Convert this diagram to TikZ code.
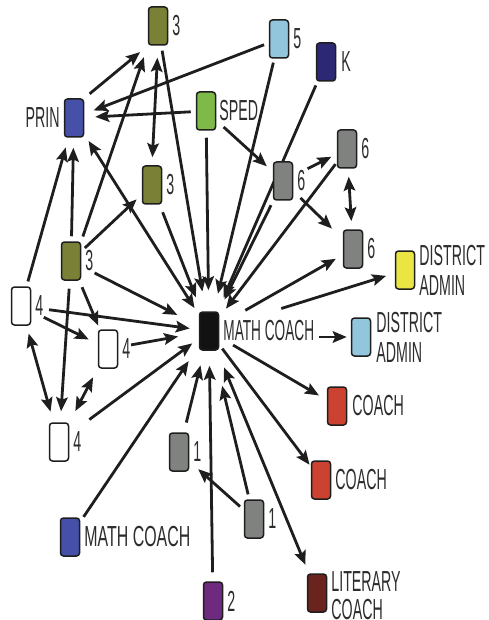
\documentclass[tikz,border=0pt]{standalone}
\usepackage{fontspec}
\usepackage{graphicx}
\setmainfont{Liberation Sans}[FakeStretch=0.49]
\usetikzlibrary{arrows.meta,backgrounds}
\definecolor{olv}{RGB}{122,129,54}
\definecolor{pblue}{RGB}{70,80,168}
\definecolor{sgreen}{RGB}{125,186,72}
\definecolor{lblue}{RGB}{146,198,221}
\definecolor{navy}{RGB}{45,40,116}
\definecolor{gry}{RGB}{128,130,128}
\definecolor{blk}{RGB}{18,18,18}
\definecolor{yel}{RGB}{234,229,67}
\definecolor{redc}{RGB}{204,66,48}
\definecolor{dred}{RGB}{107,35,30}
\definecolor{purp}{RGB}{110,42,126}
\definecolor{ink}{RGB}{30,30,30}
\definecolor{txt}{RGB}{45,45,45}
\begin{document}
\begin{tikzpicture}[x=1pt,y=-1pt,
  box/.style={draw=ink, rounded corners=3pt, minimum width=19pt, minimum height=38pt, inner sep=0pt, line width=1.5pt},
  lbl/.style={inner sep=0pt, text=txt, font=\fontsize{29}{30}\selectfont, align=left},
  conn/.style={line width=2.8pt, draw=ink, -{Stealth[length=14pt,width=11.5pt,inset=2.5pt]}, shorten <=5pt, shorten >=9pt},
  bconn/.style={conn, {Stealth[length=14pt,width=11.5pt,inset=2.5pt]}-{Stealth[length=14pt,width=11.5pt,inset=2.5pt]}}
]
\useasboundingbox (0,0) rectangle (488,620);
% nodes
\node[box, fill=olv] (g3a) at (158,26) {};
\node[box, fill=lblue] (b5) at (279,39) {};
\node[box, fill=navy] (k) at (326,62) {};
\node[box, fill=pblue] (prin) at (74,118) {};
\node[box, fill=sgreen] (sped) at (206,111) {};
\node[box, fill=olv] (g3b) at (152,185) {};
\node[box, fill=gry] (s6a) at (283,181) {};
\node[box, fill=gry] (s6b) at (347,149) {};
\node[box, fill=gry] (s6c) at (353,249) {};
\node[box, fill=yel] (da1) at (405,270) {};
\node[box, fill=blk] (mc) at (209,331) {};
\node[box, fill=lblue] (da2) at (361,337) {};
\node[box, fill=redc] (c1) at (337,406) {};
\node[box, fill=redc] (c2) at (321,480) {};
\node[box, fill=dred] (lit) at (317,593) {};
\node[box, fill=gry] (g1b) at (254,519) {};
\node[box, fill=gry] (g1a) at (179,452) {};
\node[box, fill=purp] (p2) at (213,601) {};
\node[box, fill=pblue] (bmc) at (70,537) {};
\node[box, fill=white] (w4c) at (59,442) {};
\node[box, fill=white] (w4a) at (21,306) {};
\node[box, fill=white] (w4b) at (108,349) {};
\node[box, fill=olv] (g3c) at (71,261) {};
% labels
\node[lbl, anchor=west] (lg3a) at ([xshift=4pt]g3a.east) {3};
\node[lbl, anchor=west] (lb5) at ([xshift=4pt]b5.east) {5};
\node[lbl, anchor=west] (lk) at ([xshift=5pt]k.east) {K};
\node[lbl, anchor=east] (lprin) at ([xshift=-4pt]prin.west) {PRIN};
\node[lbl, anchor=west] (lsped) at ([xshift=3pt]sped.east) {SPED};
\node[lbl, anchor=west] (lg3b) at ([xshift=4pt]g3b.east) {3};
\node[lbl, anchor=west] (ls6a) at ([xshift=4pt]s6a.east) {6};
\node[lbl, anchor=west] (ls6b) at ([xshift=4pt]s6b.east) {6};
\node[lbl, anchor=west] (ls6c) at ([xshift=4pt]s6c.east) {6};
\node[lbl, anchor=west] (lda1) at ([xshift=4pt]da1.east) {DISTRICT\\ADMIN};
\node[lbl, anchor=west] (lmc) at ([xshift=4pt]mc.east) {\scalebox{0.96}[1]{MATH COACH}};
\node[lbl, anchor=west] (lda2) at ([xshift=5pt]da2.east) {DISTRICT\\ADMIN};
\node[lbl, anchor=west] (lc1) at ([xshift=5pt]c1.east) {COACH};
\node[lbl, anchor=west] (lc2) at ([xshift=4pt]c2.east) {COACH};
\node[lbl, anchor=west, font=\fontsize{29}{28}\selectfont] (llit) at ([xshift=4pt,yshift=-3pt]lit.east) {LITERARY\\COACH};
\node[lbl, anchor=west] (lg1b) at ([xshift=4pt]g1b.east) {1};
\node[lbl, anchor=west] (lg1a) at ([xshift=4pt]g1a.east) {1};
\node[lbl, anchor=west] (lp2) at ([xshift=4pt]p2.east) {2};
\node[lbl, anchor=west] (lbmc) at ([xshift=4pt]bmc.east) {\scalebox{1.12}[1]{MATH COACH}};
\node[lbl, anchor=west] (lw4c) at ([xshift=4pt]w4c.east) {4};
\node[lbl, anchor=west] (lw4a) at ([xshift=4pt]w4a.east) {4};
\node[lbl, anchor=west] (lw4b) at ([xshift=4pt]w4b.east) {4};
\node[lbl, anchor=west] (lg3c) at ([xshift=4pt]g3c.east) {3};
% connectors
\begin{pgfonlayer}{background}
\draw[conn, shorten <=7pt, shorten >=10pt] (prin.north east) -- (g3a.south west);
\draw[conn, shorten >=12pt] (g3c.north east) -- (g3a.south west);
\draw[bconn, shorten <=12pt, shorten >=8pt] (g3a.south) -- (g3b.north);
\draw[conn, shorten >=7pt] (g3c) -- (g3b);
\draw[conn, shorten >=10pt] (b5) -- (prin);
\draw[conn, shorten >=11pt] (sped) -- (prin);
\draw[conn, shorten >=10pt] (w4a) -- (prin);
\draw[conn, shorten >=10pt] (g3c) -- (prin);
\draw[bconn, shorten <=8pt, shorten >=8pt] (mc) -- (prin);
\draw[conn, shorten <=10pt, shorten >=8pt] (sped) -- (s6a);
\draw[conn, shorten <=16pt, shorten >=6pt] (s6a) -- (s6b);
\draw[bconn, shorten <=8pt, shorten >=8pt] (s6b) -- (s6c);
\draw[conn, shorten <=10pt, shorten >=15pt] (s6a) -- (s6c);
% into math coach
\draw[conn, shorten >=20pt] (g3a) -- (mc);
\draw[conn, shorten <=8pt, shorten >=15pt] (g3b) -- (mc);
\draw[conn, shorten <=7pt, shorten >=21pt] (sped) -- (mc);
\draw[conn, shorten <=4pt, shorten >=18pt] (b5) -- (mc);
\draw[conn, shorten <=4pt, shorten >=15pt] (k) -- (mc);
\draw[conn, shorten <=5pt, shorten >=13pt] (s6a) -- (mc);
\draw[conn, shorten <=2pt, shorten >=11pt] (s6b) -- (mc);
\draw[conn, shorten <=15pt, shorten >=24pt] (g3c) -- (mc);
\draw[conn, shorten <=18pt, shorten >=9pt] (w4a) -- (mc);
\draw[conn, shorten <=13pt, shorten >=21pt] (w4b) -- (mc);
\draw[conn, shorten <=25pt, shorten >=8pt] (w4c) -- (mc);
\draw[conn, shorten <=6pt, shorten >=18pt] (bmc) -- (mc);
\draw[conn, shorten <=10pt, shorten >=15pt] (g1a) -- (mc);
\draw[conn, shorten <=9pt, shorten >=15pt] (p2) -- (mc);
\draw[conn, shorten <=5pt, shorten >=36pt] (g1b) -- (mc);
\draw[conn, shorten <=5pt, shorten >=12pt] (g1b) -- (g1a);
% out of math coach
\draw[conn, shorten <=30pt, shorten >=8pt] (mc) -- (s6c);
\draw[conn, shorten <=65pt, shorten >=9pt] (mc) -- (da1);
\draw[conn, shorten <=5pt, shorten >=4pt] (lmc.east |- da2) -- (da2);
\draw[conn, shorten <=16pt, shorten >=9pt] (mc) -- (c1);
\draw[conn, shorten <=5pt, shorten >=2pt] (mc) -- (c2);
\draw[bconn, shorten <=18pt, shorten >=9pt] (mc) -- (lit);
% left cluster
\draw[conn, shorten <=14pt, shorten >=10pt] (w4a) -- (w4b);
\draw[conn, shorten <=7pt, shorten >=4pt] (g3c) -- (w4b);
\draw[bconn, shorten <=8pt, shorten >=11pt] (w4a) -- (w4c);
\draw[bconn, shorten <=10pt, shorten >=13pt] (w4b) -- (w4c);
\draw[conn, shorten <=8pt, shorten >=11pt] (g3c) -- (w4c);
\end{pgfonlayer}
\end{tikzpicture}
\end{document}
